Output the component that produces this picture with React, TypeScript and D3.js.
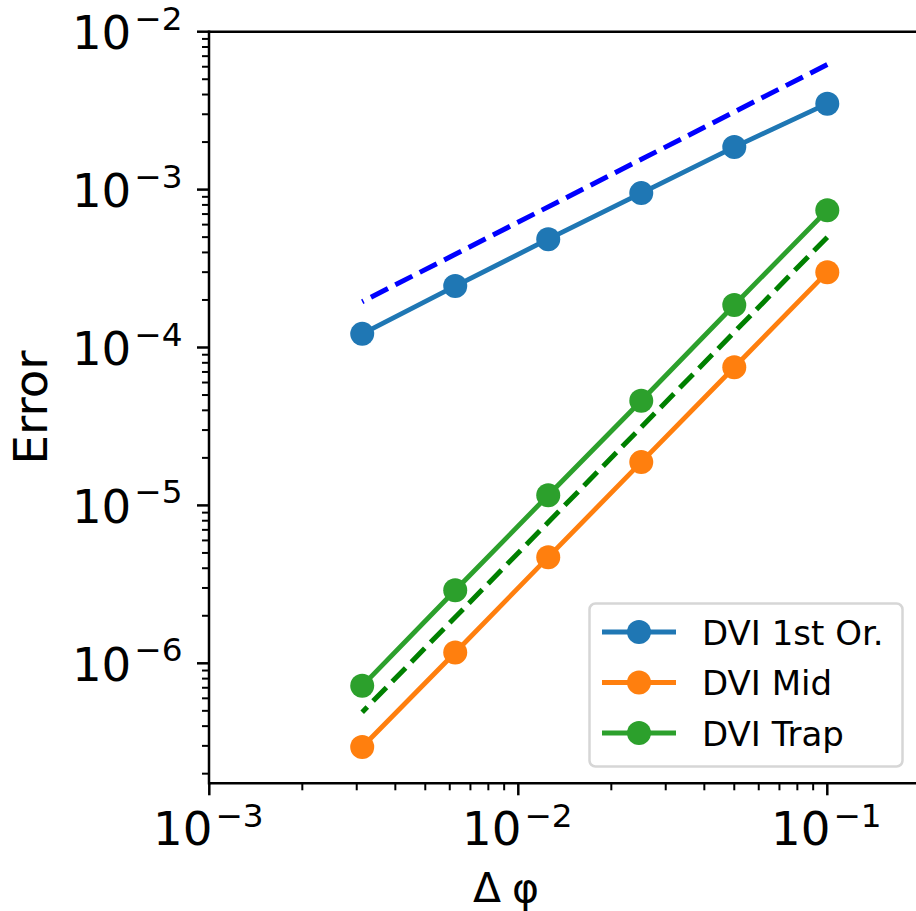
import React from "react";
import * as d3 from "d3";

// ---- data ----
const dphi = [0.1, 0.05, 0.025, 0.0125, 0.00625, 0.003125];
const errFirst = [3.5e-3, 1.86e-3, 9.5e-4, 4.85e-4, 2.45e-4, 1.22e-4];
const errMid = [3.0e-4, 7.5e-5, 1.88e-5, 4.7e-6, 1.17e-6, 2.95e-7];
const errTrap = [7.4e-4, 1.86e-4, 4.6e-5, 1.16e-5, 2.9e-6, 7.2e-7];
const refFirstX = [0.1, 0.003125];
const refFirstY = [6.2e-3, 1.95e-4];
const refSecondX = [0.1, 0.003125];
const refSecondY = [5.0e-4, 4.9e-7];
const seriesNames = ["DVI 1st Or.", "DVI Mid", "DVI Trap"];
const seriesColors = ["#1f77b4", "#ff7f0e", "#2ca02c"];
const xTickExps = [-3, -2, -1];
const yTickExps = [-2, -3, -4, -5, -6];

const W = 916;
const H = 911;
const left = 209;
const top = 31.7;
const bottom = 783.3;
const right = 916;
const FONT = "DejaVu Sans";

export default function App() {
  const x = d3.scaleLog().domain([1e-3, 1e-1]).range([209.3, 827.3]);
  const y = d3.scaleLog().domain([1e-2, 1e-6]).range([31.7, 663.3]);
  const yBottomVal = y.invert(bottom);
  const xRightVal = x.invert(right);

  const line = d3
    .line<[number, number]>()
    .x((d) => x(d[0]))
    .y((d) => y(d[1]));

  const series = [errFirst, errMid, errTrap];

  // minor ticks
  const xMinor: number[] = [];
  for (let e = -3; e <= 0; e++) {
    for (let m = 2; m <= 9; m++) {
      const v = m * Math.pow(10, e);
      if (v >= 1e-3 && v <= xRightVal) xMinor.push(v);
    }
  }
  const yMinor: number[] = [];
  for (let e = -7; e <= -3; e++) {
    for (let m = 2; m <= 9; m++) {
      const v = m * Math.pow(10, e);
      if (v >= yBottomVal && v <= 1e-2) yMinor.push(v);
    }
  }

  const bigFs = 46.7;
  const supFs = 32.7;
  const supW = 48.2;
  const tenW = 59.4;
  const gap = 3;

  return (
    <svg
      width={W}
      height={H}
      style={{ position: "absolute", left: 0, top: 0, background: "#fff" }}
      fontFamily={FONT}
    >
      <rect x={0} y={0} width={W} height={H} fill="#fff" />
      <defs>
        <clipPath id="plotclip">
          <rect x={left} y={top} width={right - left} height={bottom - top} />
        </clipPath>
      </defs>

      <g clipPath="url(#plotclip)">
        {/* reference lines */}
        <path
          d={line(refFirstX.map((v, i) => [v, refFirstY[i]]))!}
          fill="none"
          stroke="#0000ff"
          strokeWidth={5}
          strokeDasharray="19.1 8.3"
        />
        {series.map((s, si) => (
          <g key={si}>
            <path
              d={line(dphi.map((v, i) => [v, s[i]]))!}
              fill="none"
              stroke={seriesColors[si]}
              strokeWidth={4.8}
            />
            {dphi.map((v, i) => (
              <circle key={i} cx={x(v)} cy={y(s[i])} r={12} fill={seriesColors[si]} />
            ))}
          </g>
        ))}
        <path
          d={line(refSecondX.map((v, i) => [v, refSecondY[i]]))!}
          fill="none"
          stroke="#008000"
          strokeWidth={5}
          strokeDasharray="19.1 8.3"
        />
      </g>

      {/* spines */}
      <g stroke="#000" strokeWidth={2.5} fill="none">
        <line x1={left} y1={top - 1.25} x2={left} y2={bottom + 1.25} />
        <line x1={left} y1={bottom} x2={right} y2={bottom} />
        <line x1={left} y1={top} x2={right} y2={top} />
      </g>

      {/* ticks */}
      <g stroke="#000">
        {xTickExps.map((e) => (
          <line key={e} x1={x(Math.pow(10, e))} x2={x(Math.pow(10, e))} y1={bottom} y2={bottom + 12} strokeWidth={2.5} />
        ))}
        {xMinor.map((v, i) => (
          <line key={i} x1={x(v)} x2={x(v)} y1={bottom} y2={bottom + 7} strokeWidth={2} />
        ))}
        {yTickExps.map((e) => (
          <line key={e} y1={y(Math.pow(10, e))} y2={y(Math.pow(10, e))} x1={left - 12} x2={left} strokeWidth={2.5} />
        ))}
        {yMinor.map((v, i) => (
          <line key={i} y1={y(v)} y2={y(v)} x1={left - 7} x2={left} strokeWidth={2} />
        ))}
      </g>

      {/* x tick labels */}
      {xTickExps.map((e) => {
        const cx = x(Math.pow(10, e));
        const start = cx - (tenW + gap + supW) / 2 - 1;
        return (
          <g key={e} fill="#000">
            <text x={start} y={845} fontSize={bigFs}>10</text>
            <text x={start + tenW + gap} y={827} fontSize={supFs}>{"\u2212" + Math.abs(e)}</text>
          </g>
        );
      })}

      {/* y tick labels */}
      {yTickExps.map((e) => {
        const cy = y(Math.pow(10, e));
        const end = 182.5;
        return (
          <g key={e} fill="#000">
            <text x={end - supW - gap} y={cy + 17.5} fontSize={bigFs} textAnchor="end">10</text>
            <text x={end} y={cy - 2} fontSize={supFs} textAnchor="end">{"\u2212" + Math.abs(e)}</text>
          </g>
        );
      })}

      {/* axis labels */}
      <text x={473} y={902} fontSize={41}>Δ</text>
      <text x={512} y={902} fontSize={41}>φ</text>
      <text
        transform={`translate(47, ${(top + bottom) / 2}) rotate(-90)`}
        fontSize={bigFs}
        textAnchor="middle"
      >
        Error
      </text>

      {/* legend */}
      <g>
        <rect x={589.5} y={603.5} width={313} height={163} rx={6} fill="#fff" fillOpacity={0.8} stroke="#d6d6d6" strokeWidth={2.5} />
        {seriesNames.map((n, i) => {
          const ry = 632 + i * 50.5;
          return (
            <g key={n}>
              <line x1={602} x2={676} y1={ry} y2={ry} stroke={seriesColors[i]} strokeWidth={4.8} />
              <circle cx={639} cy={ry} r={12} fill={seriesColors[i]} />
              <text x={702} y={ry + 12.5} fontSize={34}>{n}</text>
            </g>
          );
        })}
      </g>
    </svg>
  );
}
